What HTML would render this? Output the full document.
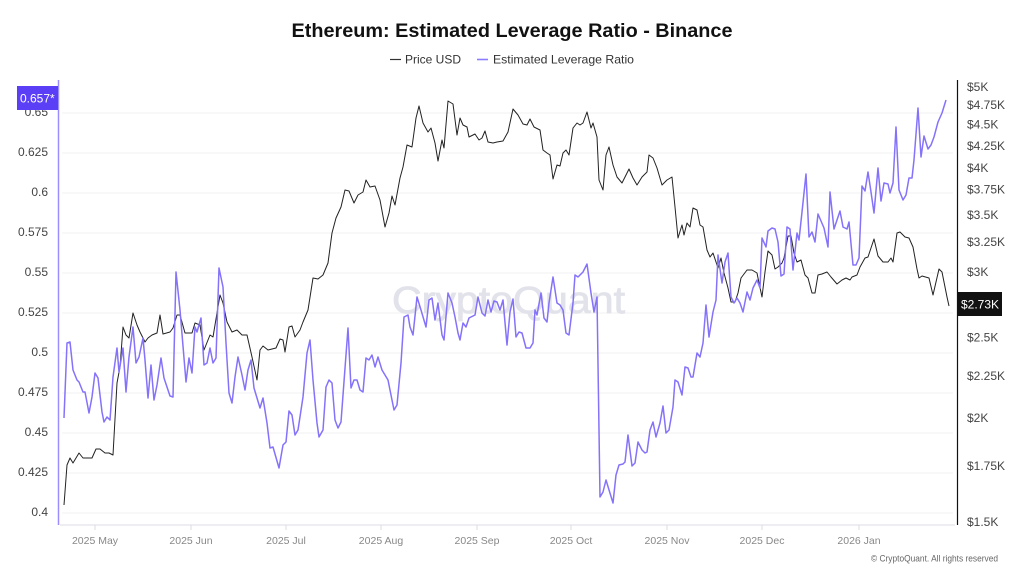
<!DOCTYPE html>
<html>
<head>
<meta charset="utf-8">
<style>
  html,body{margin:0;padding:0;background:#fff;}
  body{width:1024px;height:576px;overflow:hidden;}
  svg{display:block;font-family:"Liberation Sans",sans-serif;}
</style>
</head>
<body>
<svg width="1024" height="576" viewBox="0 0 1024 576" xmlns="http://www.w3.org/2000/svg">
  <rect x="0" y="0" width="1024" height="576" fill="#ffffff"/>

  <!-- Title -->
  <text x="512" y="37" text-anchor="middle" font-size="19.5" font-weight="bold" fill="#111" textLength="441" lengthAdjust="spacingAndGlyphs">Ethereum: Estimated Leverage Ratio - Binance</text>

  <!-- Legend -->
  <line x1="390" y1="59.5" x2="401" y2="59.5" stroke="#333" stroke-width="1.2"/>
  <text x="405" y="63.5" font-size="12" fill="#333">Price USD</text>
  <line x1="477" y1="59.5" x2="488" y2="59.5" stroke="#8a7cff" stroke-width="1.6"/>
  <text x="493" y="63.5" font-size="12" fill="#333" textLength="141" lengthAdjust="spacingAndGlyphs">Estimated Leverage Ratio</text>

  <!-- Gridlines -->
  <g stroke="#f1f1f3" stroke-width="1">
    <line x1="62" y1="113" x2="953" y2="113"/>
    <line x1="62" y1="153" x2="953" y2="153"/>
    <line x1="62" y1="193" x2="953" y2="193"/>
    <line x1="62" y1="233" x2="953" y2="233"/>
    <line x1="62" y1="273" x2="953" y2="273"/>
    <line x1="62" y1="313" x2="953" y2="313"/>
    <line x1="62" y1="353" x2="953" y2="353"/>
    <line x1="62" y1="393" x2="953" y2="393"/>
    <line x1="62" y1="433" x2="953" y2="433"/>
    <line x1="62" y1="473" x2="953" y2="473"/>
    <line x1="62" y1="513" x2="953" y2="513"/>
  </g>

  <!-- Watermark -->
  <text x="392" y="313" font-size="38" fill="#e2e2ea" stroke="#e2e2ea" stroke-width="0.8" textLength="233" lengthAdjust="spacingAndGlyphs">CryptoQuant</text>

  <!-- Bottom axis -->
  <line x1="60" y1="525" x2="955" y2="525" stroke="#dcdce6" stroke-width="1"/>
  <g stroke="#dcdce6" stroke-width="1">
    <line x1="95" y1="525" x2="95" y2="530"/>
    <line x1="191" y1="525" x2="191" y2="530"/>
    <line x1="286" y1="525" x2="286" y2="530"/>
    <line x1="381" y1="525" x2="381" y2="530"/>
    <line x1="477" y1="525" x2="477" y2="530"/>
    <line x1="571" y1="525" x2="571" y2="530"/>
    <line x1="667" y1="525" x2="667" y2="530"/>
    <line x1="762" y1="525" x2="762" y2="530"/>
    <line x1="859" y1="525" x2="859" y2="530"/>
  </g>
  <g font-size="10.5" fill="#888" text-anchor="middle">
    <text x="95" y="544">2025 May</text>
    <text x="191" y="544">2025 Jun</text>
    <text x="286" y="544">2025 Jul</text>
    <text x="381" y="544">2025 Aug</text>
    <text x="477" y="544">2025 Sep</text>
    <text x="571" y="544">2025 Oct</text>
    <text x="667" y="544">2025 Nov</text>
    <text x="762" y="544">2025 Dec</text>
    <text x="859" y="544">2026 Jan</text>
  </g>

  <!-- Left axis -->
  <line x1="58.5" y1="80" x2="58.5" y2="525" stroke="#9b8dff" stroke-width="1.5"/>
  <g font-size="12" fill="#444" text-anchor="end">
    <text x="48" y="116">0.65</text>
    <text x="48" y="156">0.625</text>
    <text x="48" y="196">0.6</text>
    <text x="48" y="236">0.575</text>
    <text x="48" y="276">0.55</text>
    <text x="48" y="316">0.525</text>
    <text x="48" y="356">0.5</text>
    <text x="48" y="396">0.475</text>
    <text x="48" y="436">0.45</text>
    <text x="48" y="476">0.425</text>
    <text x="48" y="516">0.4</text>
  </g>
  <rect x="17" y="86" width="41" height="24" fill="#5a3ff6"/>
  <text x="20" y="102.5" font-size="12" fill="#ffffff">0.657*</text>

  <!-- Right axis -->
  <line x1="957.5" y1="80" x2="957.5" y2="525" stroke="#111" stroke-width="1.2"/>
  <g font-size="12" fill="#444">
    <text x="967" y="91">$5K</text>
    <text x="967" y="109">$4.75K</text>
    <text x="967" y="128.5">$4.5K</text>
    <text x="967" y="150">$4.25K</text>
    <text x="967" y="172">$4K</text>
    <text x="967" y="193.5">$3.75K</text>
    <text x="967" y="219">$3.5K</text>
    <text x="967" y="246">$3.25K</text>
    <text x="967" y="276">$3K</text>
    <text x="967" y="341.5">$2.5K</text>
    <text x="967" y="380">$2.25K</text>
    <text x="967" y="422">$2K</text>
    <text x="967" y="470">$1.75K</text>
    <text x="967" y="526">$1.5K</text>
  </g>
  <rect x="958" y="292" width="44" height="24" fill="#111"/>
  <text x="961" y="308.5" font-size="12" fill="#ffffff">$2.73K</text>

  <!-- Price USD (black) -->
  <polyline fill="none" stroke="#222" stroke-width="1" stroke-linejoin="round" points="64,505 67,465 70,458 73,463 79,453 83,458 92,458 96,449 100,449 105,453 109,453 113,455 117,383 120,367 123,327 126,335 129,338 133,313 137,325 140,332 145,342 148,338 152,335 157,333 160,315 163,334 170,332 173,328 177,315 180,315 185,333 192,333 195,323 200,325 204,350 210,335 213,337 220,295 223,303 227,322 232,332 237,330 242,335 247,335 252,357 257,380 260,350 263,346 268,350 276,348 280,339 283,340 285,352 289,327 292,326 295,337 300,330 303,322 308,310 313,278 318,279 323,275 328,263 332,233 336,218 341,207 345,190 349,191 354,203 358,195 363,192 366,180 370,187 375,186 380,200 385,227 389,213 392,196 395,205 400,178 403,167 407,145 412,147 416,118 419,106 423,123 428,132 431,128 435,143 438,161 442,140 444,148 448,101 453,104 457,135 460,118 463,125 467,127 469,137 475,134 479,140 482,138 485,131 488,142 493,143 497,142 503,141 508,132 513,109 518,115 523,124 527,125 530,119 534,127 540,130 543,150 547,153 550,155 553,179 557,165 560,166 563,153 566,150 569,155 573,128 577,123 580,125 583,123 587,112 591,128 593,123 597,137 599,180 603,190 606,155 609,147 613,165 617,177 622,183 625,177 629,169 633,178 637,185 642,177 647,172 649,155 653,158 657,168 662,185 667,180 672,177 675,207 678,238 682,225 684,235 687,223 690,227 693,208 697,210 700,225 703,227 707,250 710,257 713,253 718,268 721,258 724,273 728,288 731,302 735,302 738,293 741,278 747,270 752,270 757,273 759,283 762,297 765,272 768,251 772,255 775,269 778,267 782,263 784,258 788,236 791,236 794,253 797,262 801,260 805,275 808,278 812,293 815,293 818,275 822,274 827,272 831,277 837,284 842,280 846,278 850,280 852,277 857,275 860,267 865,258 868,257 871,248 874,239 878,256 883,262 888,262 891,258 893,262 897,233 900,232 905,237 909,238 913,247 917,269 919,278 922,276 929,278 933,295 939,269 942,272 947,297 949,306"/>

  <!-- Estimated Leverage Ratio (purple) -->
  <polyline fill="none" stroke="#8472fb" stroke-width="1.5" stroke-linejoin="round" points="64,418 67,343 70,342 73,370 77,380 79,382 83,392 85,392 89,413 92,397 95,373 98,378 102,412 104,422 107,417 110,420 113,377 117,348 119,372 123,348 126,392 129,357 133,327 136,363 139,357 143,338 145,360 148,398 151,365 154,400 157,385 161,358 164,378 170,396 173,397 176,272 180,310 186,382 189,358 192,373 195,327 197,332 201,318 204,365 207,363 210,348 213,363 216,358 219,268 223,287 226,343 229,393 232,403 235,377 238,357 242,375 245,390 248,370 251,360 254,388 257,398 260,408 263,398 267,423 270,448 273,447 279,468 283,445 286,442 289,411 292,415 295,435 298,430 303,397 307,353 310,340 313,380 317,423 319,437 323,430 326,387 329,380 332,383 335,420 338,428 341,422 348,328 351,388 354,380 357,380 360,390 363,392 366,358 369,360 372,355 375,367 378,357 382,370 388,380 394,410 397,405 401,363 404,317 408,315 410,327 413,335 417,297 421,310 426,327 429,300 432,298 435,320 438,303 442,335 444,340 448,293 452,303 455,317 458,333 460,340 463,323 466,327 469,318 475,315 478,297 482,313 485,316 488,300 491,312 494,301 497,302 500,310 503,300 507,345 510,312 513,299 516,337 519,332 522,333 526,348 530,348 533,343 535,310 537,315 541,293 544,318 547,322 549,303 553,277 557,303 560,305 563,310 566,333 569,335 573,303 575,275 578,277 583,272 587,264 591,293 594,312 597,297 600,497 603,492 606,480 613,503 616,475 619,465 623,464 625,462 628,435 632,466 635,463 638,442 642,450 645,453 647,452 650,430 653,422 656,437 660,423 663,406 666,433 669,430 673,407 675,380 678,382 682,395 685,367 688,368 691,377 693,377 697,353 700,357 703,343 706,305 709,337 713,312 716,300 718,255 722,283 725,262 728,253 731,297 734,303 737,298 740,303 743,312 747,292 750,300 753,288 757,280 760,288 762,238 766,247 768,231 772,228 775,229 778,242 781,276 784,274 787,227 790,229 793,270 797,233 799,240 802,212 806,174 809,237 812,232 815,242 818,214 824,228 828,247 830,192 834,229 840,211 843,227 847,229 849,222 853,265 856,265 859,258 862,186 865,191 868,172 871,192 874,213 878,168 881,201 884,183 888,184 890,193 893,183 896,127 899,190 903,200 906,195 909,178 912,178 914,160 918,108 921,157 924,136 928,149 931,145 934,137 938,122 942,113 946,100"/>

  <!-- Copyright -->
  <text x="871" y="561.5" font-size="9.5" fill="#666" textLength="127" lengthAdjust="spacingAndGlyphs">© CryptoQuant. All rights reserved</text>
</svg>
</body>
</html>
